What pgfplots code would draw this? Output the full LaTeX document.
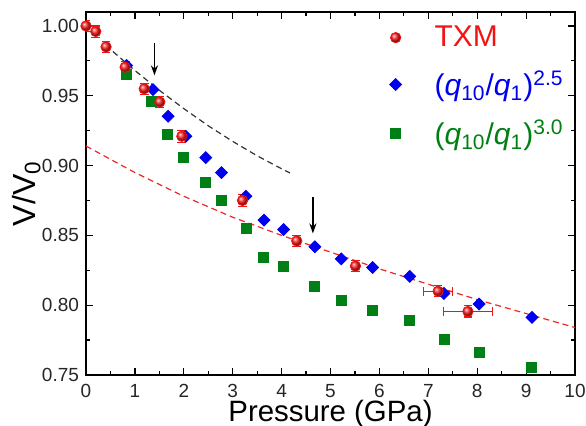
\documentclass[border=0pt]{standalone}
\usepackage{fontspec}
\setmainfont{Liberation Sans}
\usepackage{pgfplots}
\usepackage{pgfplotstable}
\pgfplotsset{compat=1.18}
\usetikzlibrary{arrows.meta}

\definecolor{txmred}{RGB}{240,20,20}
\definecolor{ballred}{RGB}{255,30,30}
\definecolor{qblue}{RGB}{0,0,240}
\definecolor{qgreen}{RGB}{0,128,20}
\definecolor{fitred}{RGB}{235,40,40}

% TXM data: pressure, V/V0, x error, y error
\pgfplotstableread{
x     y       ex    ey
0.00  1.000   0     0.0040
0.20  0.996   0     0.0040
0.41  0.985   0     0.0040
0.80  0.9705  0     0.0040
1.19  0.955   0     0.0040
1.51  0.9455  0     0.0040
1.96  0.921   0     0.0043
3.20  0.875   0     0.0043
4.31  0.846   0     0.0040
5.51  0.828   0     0.0040
7.20  0.810   0.30  0.0040
7.81  0.7955  0.50  0.0040
}\txm

\pgfplotstableread{
x     y
0.83  0.9717
1.37  0.9544
1.68  0.9353
2.04  0.9210
2.45  0.9057
2.77  0.8950
3.27  0.8780
3.64  0.8610
4.04  0.8542
4.68  0.8418
5.22  0.8332
5.86  0.8270
6.62  0.8206
7.32  0.8084
8.04  0.8008
9.12  0.7913
}\qa

\pgfplotstableread{
x     y
0.83  0.9653
1.34  0.9458
1.66  0.9226
2.00  0.9062
2.45  0.8878
2.77  0.8754
3.27  0.8550
3.63  0.8342
4.04  0.8280
4.68  0.8134
5.22  0.8034
5.86  0.7965
6.61  0.7889
7.33  0.7753
8.04  0.7662
9.11  0.7552
}\qb

\begin{document}
\begin{tikzpicture}
\begin{axis}[
  scale only axis,
  width=244.5pt, height=181.5pt,
  xmin=0, xmax=10, ymin=0.75, ymax=1.01,
  xtick={0,1,...,10},
  ytick={0.75,0.80,0.85,0.90,0.95,1.00},
  minor x tick num=1,
  minor y tick num=1,
  tick align=inside,
  major tick length=3.5pt,
  minor tick length=2pt,
  axis line style={line width=0.75pt},
  every tick/.style={line width=0.6pt, black},
  tick label style={font=\fontsize{9.5}{11}\selectfont, text=black!85},
  xticklabel style={yshift=-1pt},
  /pgf/number format/assume math mode=true,
  yticklabel style={/pgf/number format/.cd, fixed, fixed zerofill, precision=2},
  xlabel={Pressure (GPa)},
  ylabel={V/V\textsubscript{0}},
  xlabel style={font=\fontsize{14.7}{16}\selectfont, at={(axis description cs:0.5,-0.128)}, anchor=base, inner sep=0pt},
  ylabel style={font=\fontsize{16}{18}\selectfont, at={(axis description cs:-0.104,0.5)}, anchor=base, inner sep=0pt},
  reverse legend,
  legend style={draw=none, fill=none, at={(axis description cs:0.608,0.985)}, anchor=north west,
    font=\fontsize{15}{17}\selectfont, row sep=6.5pt,
    /tikz/every odd column/.append style={column sep=14.5pt}},
  legend cell align=left,
]
% fitted curves
\addplot[black!80, line width=0.6pt, dash pattern=on 3pt off 2pt, forget plot] coordinates {
  (0.55,0.9817) (1.0,0.9681) (1.5,0.9539) (2.0,0.9408) (2.5,0.9285)
  (3.0,0.9173) (3.5,0.9070) (4.0,0.8977) (4.17,0.8947)
};
\addplot[fitred, line width=0.6pt, dash pattern=on 3pt off 2pt, forget plot] coordinates {
  (0,0.914) (1,0.895) (2,0.878) (3,0.863) (4,0.850) (5,0.838)
  (6,0.826) (7,0.815) (8,0.804) (9,0.794) (10,0.784)
};
% (q10/q1)^3.0
\addplot[only marks, mark=square*, mark size=2.5pt, color=qgreen] table[x=x, y=y] {\qb};
\addlegendentry[text=qgreen]{(\textit{q}\textsubscript{10}/\textit{q}\textsubscript{1})\textsuperscript{3.0}}
% (q10/q1)^2.5
\addplot[only marks, mark=square*, mark size=2.1pt, mark options={rotate=45}, color=qblue] table[x=x, y=y] {\qa};
\addlegendentry[text=qblue]{(\textit{q}\textsubscript{10}/\textit{q}\textsubscript{1})\textsuperscript{2.5}}
% TXM horizontal error bars
\addplot[forget plot, draw=none, mark=none, txmred,
  error bars/.cd, x dir=both, x explicit, error bar style={line width=0.6pt},
  error mark options={rotate=90, mark size=2.2pt, line width=0.6pt, txmred}]
  table[x=x, y=y, x error=ex, restrict expr to domain={\thisrow{ex}}{0.01:1}] {\txm};
% TXM
\addplot[only marks, mark=ball, mark size=2.6pt, ball color=ballred, txmred,
  error bars/.cd, y dir=both, y explicit, error bar style={line width=0.6pt},
  error mark options={rotate=90, mark size=2.2pt, line width=0.6pt, txmred}]
  table[x=x, y=y, y error=ey] {\txm};
\addlegendentry[text=txmred]{TXM}
% arrows marking the transitions
\draw[line width=0.8pt, -{Stealth[length=5pt, width=3.5pt]}] (axis cs:1.40,0.988) -- (axis cs:1.40,0.9646);
\draw[line width=0.8pt, -{Stealth[length=5pt, width=3.5pt]}] (axis cs:4.64,0.8775) -- (axis cs:4.64,0.8514);
\end{axis}
\pgfresetboundingbox
\path[use as bounding box] ([shift={(-43pt,-25.5pt)}]current axis.south west) rectangle ([shift={(5.5pt,6pt)}]current axis.north east);
\end{tikzpicture}
\end{document}
